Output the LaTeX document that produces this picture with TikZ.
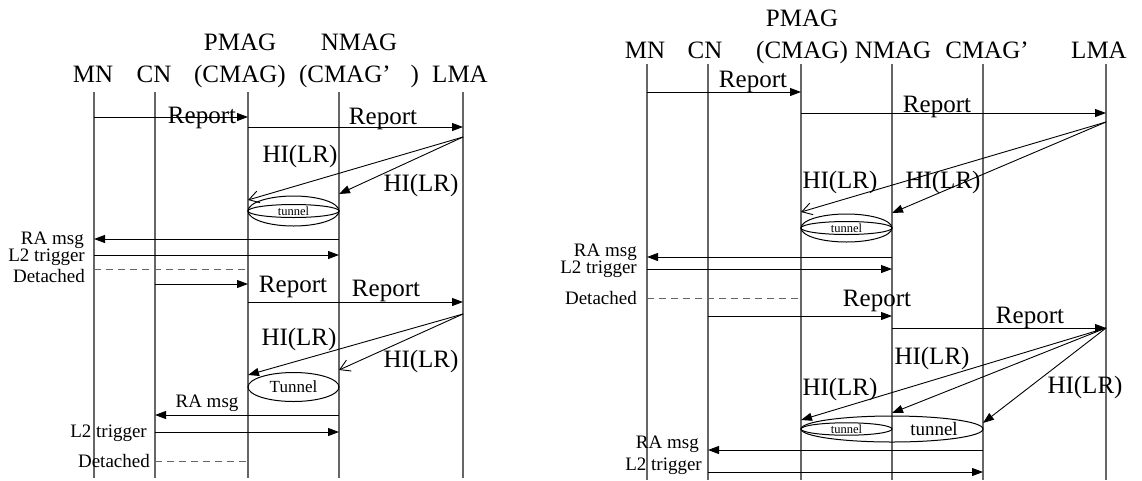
\documentclass[tikz,border=0pt]{standalone}
\usepackage{fontspec}
\setmainfont{Liberation Serif}
\usetikzlibrary{arrows.meta, shapes.geometric}

\begin{document}
\begin{tikzpicture}[x=1pt, y=-1pt,
    life/.style={draw=black!60, line width=1.1pt},
    msg/.style={line width=0.9pt, -{Triangle[length=11pt, width=8pt]}},
    msgo/.style={line width=0.9pt, -{Straight Barb[length=10pt, width=12pt]}},
    det/.style={draw=black!60, line width=0.9pt, dash pattern=on 7pt off 5pt},
    lbl/.style={font=\fontsize{25}{28}\selectfont, anchor=base, inner sep=0pt},
    sm/.style={font=\fontsize{19}{21}\selectfont, anchor=base east, inner sep=0pt},
    tun/.style={ellipse, draw, line width=1pt, inner sep=0pt}]
  \useasboundingbox (0,0) rectangle (1142,480);

  % left diagram: lifelines
  \coordinate (mnA) at (94,92);
  \coordinate (cnA) at (155,92);
  \coordinate (pmA) at (248,92);
  \coordinate (nmA) at (339,92);
  \coordinate (lmA) at (463,92);
  \foreach \l in {mnA, cnA, pmA, nmA, lmA}
    \draw[life] (\l) -- (\l |- 0,478);
  \node[lbl] (hmnA) at (93,82) {MN};
  \node[lbl] (hcnA) at (154,82) {CN};
  \node[lbl] (hpmA) at (240,50) {PMAG};
  \node[lbl] (hpcA) at (240,82) {(CMAG)};
  \node[lbl] (hnmA) at (359,50) {NMAG};
  \node[lbl] (hncA) at (359,82) {(CMAG’\hspace{20pt})};
  \node[lbl] (hlmA) at (460,82) {LMA};

  % left diagram: messages
  \draw[msg] (mnA |- 0,117) -- (pmA |- 0,117);
  \node[lbl] (rpA1) at (202,123) {Report};
  \draw[msg] (pmA |- 0,127) -- (lmA |- 0,127);
  \node[lbl] (rpA2) at (383,124) {Report};
  \draw[msgo] (lmA |- 0,137) -- (pmA |- 0,200);
  \node[lbl] (hiA1) at (300,162) {HI(LR)};
  \draw[msg] (lmA |- 0,137) -- (nmA |- 0,194);
  \node[lbl] (hiA2) at (421,191) {HI(LR)};
  \node[tun, minimum width=91pt, minimum height=30pt] (tunA1) at (293.5,211) {};
  \node[tun, minimum width=91pt, minimum height=13pt, font=\fontsize{12.5}{13}\selectfont] (tunA1i) at (293.5,211) {tunnel};
  \draw[msg] (nmA |- 0,239) -- (mnA |- 0,239);
  \node[sm] (raA1) at (84,244) {RA msg};
  \draw[msg] (mnA |- 0,255) -- (nmA |- 0,255);
  \node[sm] (ltA1) at (85,261) {L2 trigger};
  \draw[det] (mnA |- 0,269) -- (pmA |- 0,269);
  \node[sm] (dtA1) at (85,282) {Detached};
  \draw[msg] (cnA |- 0,284) -- (pmA |- 0,284);
  \node[lbl] (rpA3) at (293,292) {Report};
  \draw[msg] (pmA |- 0,302) -- (lmA |- 0,302);
  \node[lbl] (rpA4) at (386,296) {Report};
  \draw[msg] (lmA |- 0,314) -- (pmA |- 0,375);
  \node[lbl] (hiA3) at (299,345) {HI(LR)};
  \draw[msgo] (lmA |- 0,314) -- (nmA |- 0,370);
  \node[lbl] (hiA4) at (421,367) {HI(LR)};
  \node[tun, minimum width=91pt, minimum height=29pt, font=\fontsize{17}{19}\selectfont] (tunA2) at (293.5,387) {Tunnel};
  \draw[msg] (nmA |- 0,415) -- (cnA |- 0,415);
  \node[lbl, font=\fontsize{19}{21}\selectfont] (raA2) at (207,407) {RA msg};
  \draw[msg] (cnA |- 0,432) -- (nmA |- 0,432);
  \node[sm] (ltA2) at (147,437) {L2 trigger};
  \draw[det] (cnA |- 0,461) -- (pmA |- 0,461);
  \node[sm] (dtA2) at (150,467) {Detached};

  % right diagram: lifelines
  \coordinate (mnB) at (647,64);
  \coordinate (cnB) at (708,64);
  \coordinate (pmB) at (801,64);
  \coordinate (nmB) at (892,64);
  \coordinate (cmB) at (983,64);
  \coordinate (lmB) at (1106,64);
  \foreach \l in {mnB, cnB, pmB, nmB, cmB, lmB}
    \draw[life] (\l) -- (\l |- 0,480);
  \node[lbl] (hmnB) at (645,58) {MN};
  \node[lbl] (hcnB) at (705,58) {CN};
  \node[lbl] (hpmB) at (802,26) {PMAG};
  \node[lbl] (hpcB) at (802,58) {(CMAG)};
  \node[lbl] (hnmB) at (893,58) {NMAG};
  \node[lbl] (hcmB) at (987,58) {CMAG’};
  \node[lbl] (hlmB) at (1099,58) {LMA};

  % right diagram: messages
  \draw[msg] (mnB |- 0,92) -- (pmB |- 0,92);
  \node[lbl] (rpB1) at (753,87) {Report};
  \draw[msg] (pmB |- 0,113) -- (lmB |- 0,113);
  \node[lbl] (rpB2) at (937,112) {Report};
  \draw[msgo] (lmB |- 0,122) -- (pmB |- 0,212);
  \node[lbl] (hiB1) at (840,188) {HI(LR)};
  \draw[msg] (lmB |- 0,122) -- (nmB |- 0,213);
  \node[lbl] (hiB2) at (943,188) {HI(LR)};
  \node[tun, minimum width=91pt, minimum height=28pt] (tunB1) at (846.5,228) {};
  \node[tun, minimum width=91pt, minimum height=13pt, font=\fontsize{12.5}{13}\selectfont] (tunB1i) at (846.5,228) {tunnel};
  \draw[msg] (nmB |- 0,257) -- (mnB |- 0,257);
  \node[sm] (raB1) at (637,256) {RA msg};
  \draw[msg] (mnB |- 0,269) -- (nmB |- 0,269);
  \node[sm] (ltB1) at (637,273) {L2 trigger};
  \draw[det] (mnB |- 0,298) -- (pmB |- 0,298);
  \node[sm] (dtB1) at (637,304) {Detached};
  \draw[msg] (cnB |- 0,316) -- (nmB |- 0,316);
  \node[lbl] (rpB3) at (877,306) {Report};
  \draw[msg] (nmB |- 0,328) -- (lmB |- 0,328);
  \node[lbl] (rpB4) at (1030,323) {Report};
  \draw[msg] (lmB |- 0,328) -- (pmB |- 0,420);
  \draw[msg] (lmB |- 0,328) -- (nmB |- 0,413);
  \draw[msg] (lmB |- 0,328) -- (cmB |- 0,423);
  \node[lbl] (hiB3) at (932,364) {HI(LR)};
  \node[lbl] (hiB4) at (840,395) {HI(LR)};
  \node[lbl] (hiB5) at (1085,393) {HI(LR)};
  \node[tun, minimum width=182pt, minimum height=26pt] (tunB2) at (892,429) {};
  \node[tun, minimum width=91pt, minimum height=11pt, font=\fontsize{12.5}{13}\selectfont] (tunB2i) at (846.5,429) {tunnel};
  \node[lbl, font=\fontsize{19}{21}\selectfont] (tunB2t) at (934,435) {tunnel};
  \draw[msg] (cmB |- 0,450) -- (cnB |- 0,450);
  \node[sm] (raB2) at (699,448) {RA msg};
  \draw[msg] (cnB |- 0,472) -- (cmB |- 0,472);
  \node[sm] (ltB2) at (702,470) {L2 trigger};
\end{tikzpicture}
\end{document}
